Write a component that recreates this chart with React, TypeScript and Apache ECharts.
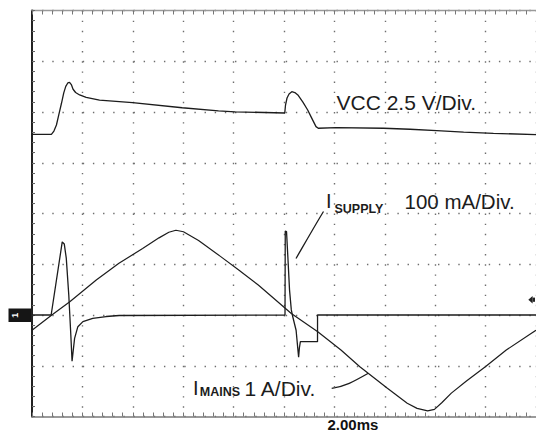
import React, { useEffect, useRef } from "react";
import * as echarts from "echarts";

// time in ms (2.00 ms/div), values in real units
const vccTime = [0, 0.77, 0.87, 0.97, 1.06, 1.17, 1.26, 1.34, 1.42, 1.49, 1.56, 1.63, 1.73, 1.89, 2.15, 2.68, 3.99, 5.96, 7.4, 8.06, 10.03, 10.06, 10.12, 10.2, 10.31, 10.43, 10.55, 10.75, 10.94, 11.1, 11.27, 11.36, 12.07, 13.95, 15.0, 16.06, 17.13, 18.31, 20.0];
const vccVolts = [8.9, 8.9, 9.06, 9.36, 9.85, 10.43, 10.94, 11.26, 11.43, 11.46, 11.35, 11.12, 10.96, 10.84, 10.72, 10.59, 10.46, 10.21, 10.06, 10.01, 9.95, 10.34, 10.69, 10.89, 11.0, 10.96, 10.84, 10.49, 10.1, 9.7, 9.28, 9.2, 9.23, 9.2, 9.15, 9.08, 9.01, 8.95, 8.89];

const supplyTime = [0, 0.76, 1.2, 1.28, 1.36, 1.46, 1.54, 1.59, 1.63, 1.69, 1.82, 2.02, 2.41, 2.94, 3.46, 10.04, 10.05, 10.1, 10.16, 10.22, 10.29, 10.35, 10.48, 10.56, 10.58, 10.61, 10.65, 11.33, 11.331, 20];
const supplyMilliAmps = [0, 0, 144, 140, 112, 39, -39, -91, -73, -46, -23, -13, -6.5, -3, -1, 0, 165.5, 164.5, 108, 49, 10, -4, -30, -73, -83, -65, -52.6, -52.6, 0, 0];

const mainsTime = [0, 0.76, 1.5, 2.55, 3.45, 4.39, 5.04, 5.43, 5.71, 6.01, 6.61, 7.49, 8.19, 8.98, 10.29, 11.34, 12.26, 13.01, 14.09, 14.89, 15.28, 15.7, 15.97, 16.26, 16.64, 17.24, 17.99, 18.82, 19.82, 20];
const mainsAmps = [-0.3, -0.01, 0.26, 0.69, 1.02, 1.31, 1.52, 1.63, 1.67, 1.64, 1.47, 1.15, 0.89, 0.59, 0.03, -0.33, -0.69, -1.02, -1.44, -1.74, -1.84, -1.89, -1.86, -1.73, -1.54, -1.3, -1.02, -0.69, -0.36, -0.3];

const zip = (a: number[], b: number[]) => a.map((v, i) => [v, b[i]]);

const INK = "#1c1c1c";
const FONT = "Liberation Sans, Arial, sans-serif";
const dotted = { color: "#6e6e6e", width: 1.4, type: [1.4, 8.75] as number[] };

export default function App() {
  const ref = useRef<HTMLDivElement>(null);
  useEffect(() => {
    if (!ref.current) return;
    const chart = echarts.init(ref.current, undefined, { renderer: "svg" });
    const hiddenY = (min: number, max: number) => ({
      type: "value" as const,
      show: false,
      min,
      max,
      splitLine: { show: false },
    });
    chart.setOption({
      animation: false,
      backgroundColor: "#ffffff",
      grid: { left: 32, top: 10.5, width: 508, height: 406 },
      xAxis: [
        {
          type: "value",
          min: 0,
          max: 20,
          interval: 2,
          position: "bottom",
          axisLine: { show: true, onZero: false, lineStyle: { color: "#7a7a7a", width: 1.5 } },
          axisTick: { show: true, inside: true, length: 4, lineStyle: { color: "#777", width: 1 } },
          minorTick: { show: true, splitNumber: 5, length: 4, lineStyle: { color: "#777", width: 1 } },
          axisLabel: { show: false },
          splitLine: { show: true, lineStyle: dotted },
        },
        {
          type: "value",
          min: 0,
          max: 20,
          interval: 2,
          position: "top",
          axisLine: { show: true, onZero: false, lineStyle: { color: "#9a9a9a", width: 1.3 } },
          axisTick: { show: true, inside: true, length: 4, lineStyle: { color: "#777", width: 1 } },
          minorTick: { show: true, splitNumber: 5, length: 4, lineStyle: { color: "#777", width: 1 } },
          axisLabel: { show: false },
          splitLine: { show: false },
        },
      ],
      yAxis: [
        {
          type: "value",
          min: -5,
          max: 15,
          interval: 2.5,
          position: "left",
          axisLine: { show: true, onZero: false, lineStyle: { color: "#222", width: 2 } },
          axisTick: { show: true, inside: true, length: 3, lineStyle: { color: "#666", width: 1 } },
          minorTick: { show: true, splitNumber: 5, length: 3, lineStyle: { color: "#666", width: 1 } },
          axisLabel: { show: false },
          splitLine: { show: true, lineStyle: dotted },
        },
        hiddenY(-200, 600),
        hiddenY(-2, 6),
      ],
      series: [
        {
          name: "VCC",
          type: "line",
          xAxisIndex: 0,
          yAxisIndex: 0,
          data: zip(vccTime, vccVolts),
          showSymbol: false,
          lineStyle: { color: INK, width: 1.3 },
        },
        {
          name: "ISUPPLY",
          type: "line",
          xAxisIndex: 0,
          yAxisIndex: 1,
          data: zip(supplyTime, supplyMilliAmps),
          showSymbol: false,
          lineStyle: { color: INK, width: 1.3 },
        },
        {
          name: "IMAINS",
          type: "line",
          xAxisIndex: 0,
          yAxisIndex: 2,
          data: zip(mainsTime, mainsAmps),
          showSymbol: false,
          lineStyle: { color: INK, width: 1.2 },
        },
      ],
      graphic: [
        { type: "text", x: 336.5, y: 102.5, style: { text: "VCC 2.5 V/Div.", font: `21px ${FONT}`, fill: INK, verticalAlign: "middle" } },
        { type: "text", x: 326, y: 201.3, style: { text: "I", font: `20px ${FONT}`, fill: INK, verticalAlign: "middle" } },
        { type: "text", x: 334.5, y: 209.2, style: { text: "SUPPLY", font: `bold 12.5px ${FONT}`, fill: INK, verticalAlign: "middle" } },
        { type: "text", x: 404.5, y: 201.5, style: { text: "100 mA/Div.", font: `20.5px ${FONT}`, fill: INK, verticalAlign: "middle" } },
        { type: "text", x: 193, y: 388, style: { text: "I", font: `20px ${FONT}`, fill: INK, verticalAlign: "middle" } },
        { type: "text", x: 199.8, y: 392.3, style: { text: "MAINS", font: `bold 12.5px ${FONT}`, fill: INK, verticalAlign: "middle" } },
        { type: "text", x: 244.5, y: 388, style: { text: "1 A/Div.", font: `21px ${FONT}`, fill: INK, verticalAlign: "middle" } },
        { type: "text", x: 327.5, y: 424.5, style: { text: "2.00ms", font: `bold 15px ${FONT}`, fill: "#111", verticalAlign: "middle" } },
        {
          type: "bezierCurve",
          shape: { x1: 323.5, y1: 211.5, cpx1: 317, cpy1: 222, cpx2: 305, cpy2: 243, x2: 296, y2: 258.5 },
          style: { stroke: INK, lineWidth: 1.3, fill: null },
        },
        {
          type: "bezierCurve",
          shape: { x1: 331.7, y1: 388.3, cpx1: 345, cpy1: 386.5, cpx2: 353, cpy2: 382, x2: 368.3, y2: 373.3 },
          style: { stroke: INK, lineWidth: 1.3, fill: null },
        },
        { type: "rect", shape: { x: 8.5, y: 308.5, width: 23, height: 13.5 }, style: { fill: "#151515" } },
        {
          type: "text",
          x: 15,
          y: 315.2,
          rotation: Math.PI / 2,
          style: { text: "1", font: `bold 9px ${FONT}`, fill: "#ffffff", align: "center", verticalAlign: "middle" },
        },
        {
          type: "polygon",
          shape: { points: [[528.3, 299.7], [532.6, 296], [532.6, 303.4]] },
          style: { fill: "#222" },
        },
        { type: "rect", shape: { x: 532.6, y: 297.6, width: 2.4, height: 4.2 }, style: { fill: "#222" } },
      ],
    });
    return () => chart.dispose();
  }, []);
  return (
    <div
      ref={ref}
      style={{ position: "fixed", left: 0, top: 0, width: 536, height: 432, background: "#fff" }}
    />
  );
}
